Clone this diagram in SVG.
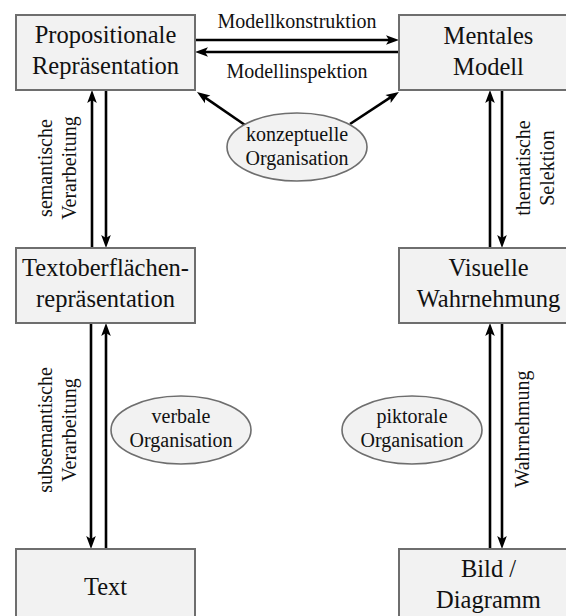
<svg xmlns="http://www.w3.org/2000/svg" width="566" height="616" viewBox="0 0 566 616">
<style>
.box{fill:#f2f2f2;stroke:#6e6e6e;stroke-width:2}
.ell{fill:#f2f2f2;stroke:#6e6e6e;stroke-width:1.6}
.bt{font-family:"Liberation Serif","Times New Roman",serif;font-size:24.5px;fill:#111;text-anchor:middle}
.et{font-family:"Liberation Serif","Times New Roman",serif;font-size:20px;fill:#111;text-anchor:middle}
.lt{font-family:"Liberation Serif","Times New Roman",serif;font-size:20px;fill:#111;text-anchor:middle}
.ar{stroke:#000;stroke-width:2.6;fill:none;marker-end:url(#ah)}
.ln{stroke:#000;stroke-width:2.6;fill:none}
</style>
<defs>
<marker id="ah" markerUnits="userSpaceOnUse" markerWidth="16" markerHeight="12" refX="7" refY="0" orient="auto" overflow="visible" viewBox="0 -6 16 12">
<path d="M0,-4.8 L13,0 L0,4.8 L3,0 Z" fill="#000"/>
</marker>
</defs>
<rect width="566" height="616" fill="#fff"/>
<g id="connectors">
<line class="ar" x1="195" y1="40" x2="393" y2="40"/>
<line class="ar" x1="399" y1="52" x2="201" y2="52"/>
<line class="ar" x1="245" y1="125" x2="201.9" y2="95.4"/>
<line class="ar" x1="350" y1="124" x2="393.9" y2="95.2"/>
<line class="ar" x1="92" y1="248" x2="92" y2="96"/>
<line class="ar" x1="106" y1="90" x2="106" y2="242"/>
<line class="ar" x1="91" y1="323" x2="91" y2="543"/>
<line class="ar" x1="106" y1="549" x2="106" y2="329"/>
<line class="ar" x1="490" y1="248" x2="490" y2="96"/>
<line class="ar" x1="502" y1="90" x2="502" y2="242"/>
<line class="ar" x1="490" y1="549" x2="490" y2="329"/>
<line class="ar" x1="502" y1="323" x2="502" y2="543"/>
<text class="lt" x="297" y="28">Modellkonstruktion</text>
<text class="lt" x="297" y="78">Modellinspektion</text>
<g transform="translate(52,168) rotate(-90)"><text class="lt" x="0" y="0">semantische</text><text class="lt" x="0" y="23.5">Verarbeitung</text></g>
<g transform="translate(530,168) rotate(-90)"><text class="lt" x="0" y="0">thematische</text><text class="lt" x="0" y="23.5">Selektion</text></g>
<g transform="translate(52,430) rotate(-90)"><text class="lt" x="0" y="0">subsemantische</text><text class="lt" x="0" y="23.5">Verarbeitung</text></g>
<g transform="translate(529,429) rotate(-90)"><text class="lt" x="0" y="0">Wahrnehmung</text></g>
</g>
<g id="propositionale">
<rect class="box" x="16" y="15" width="179" height="75"/>
<text class="bt" x="105.5" y="43">Propositionale</text>
<text class="bt" x="105.5" y="73.5">Repräsentation</text>
</g>
<g id="mentales">
<rect class="box" x="399" y="15" width="179" height="75"/>
<text class="bt" x="488.5" y="44">Mentales</text>
<text class="bt" x="488.5" y="75">Modell</text>
</g>
<g id="textoberflaechen">
<rect class="box" x="16" y="248" width="179" height="75"/>
<text class="bt" x="105.5" y="275.5">Textoberflächen-</text>
<text class="bt" x="105.5" y="306.5">repräsentation</text>
</g>
<g id="visuelle">
<rect class="box" x="399" y="248" width="179" height="75"/>
<text class="bt" x="488.5" y="275.5">Visuelle</text>
<text class="bt" x="488.5" y="306.5">Wahrnehmung</text>
</g>
<g id="text">
<rect class="box" x="16" y="549" width="179" height="75"/>
<text class="bt" x="105.5" y="595">Text</text>
</g>
<g id="bild">
<rect class="box" x="399" y="549" width="179" height="75"/>
<text class="bt" x="488.5" y="576.5">Bild /</text>
<text class="bt" x="488.5" y="607.5">Diagramm</text>
</g>
<g id="konzeptuelle">
<ellipse class="ell" cx="297" cy="147" rx="70" ry="34"/>
<text class="et" x="297" y="140.5">konzeptuelle</text>
<text class="et" x="297" y="165">Organisation</text>
</g>
<g id="verbale">
<ellipse class="ell" cx="181" cy="430" rx="70" ry="34"/>
<text class="et" x="181" y="422.5">verbale</text>
<text class="et" x="181" y="447">Organisation</text>
</g>
<g id="piktorale">
<ellipse class="ell" cx="412" cy="430" rx="70" ry="34"/>
<text class="et" x="412" y="422.5">piktorale</text>
<text class="et" x="412" y="447">Organisation</text>
</g>
</svg>
